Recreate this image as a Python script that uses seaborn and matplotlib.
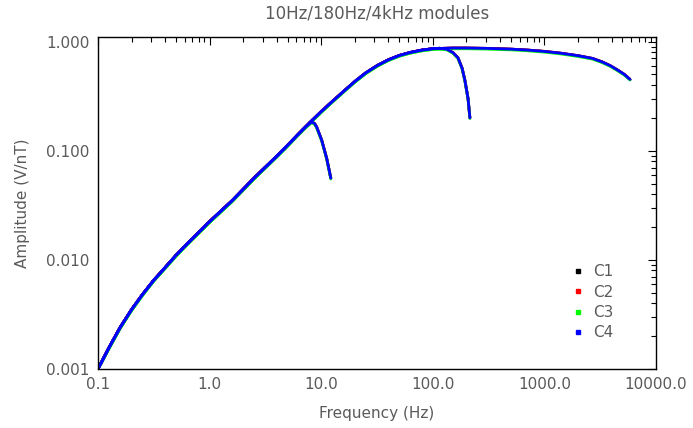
import numpy as np
import pandas as pd
import seaborn as sns
import matplotlib
matplotlib.use("Agg")
import matplotlib.pyplot as plt
from matplotlib.lines import Line2D
from matplotlib.ticker import FixedLocator, FixedFormatter, LogLocator, NullFormatter

# ---------------- data ----------------
channels = ["C1", "C2", "C3", "C4"]
channel_colors = ["#000000", "#ff0000", "#00ff00", "#0000ff"]

# common low-frequency rise (all modules)
rise_freq = [0.10, 0.126, 0.158, 0.20, 0.25, 0.316, 0.40, 0.50, 0.63, 1.0, 1.6, 2.5, 4.0, 5.0, 6.3]
rise_amp = [0.0010, 0.00158, 0.0024, 0.0035, 0.0048, 0.0065, 0.0085, 0.011, 0.014, 0.0224,
            0.035, 0.056, 0.089, 0.112, 0.143]
rise_amp_c3 = [0.0010, 0.00155, 0.00236, 0.00344, 0.00472, 0.0064, 0.00836, 0.0108, 0.0138, 0.0220,
               0.0344, 0.0551, 0.0876, 0.110, 0.141]

# 10 Hz module roll-off
tail10_freq = [7.3, 8.2, 8.7, 9.1, 10.1, 11.2, 12.2]
tail10_amp = [0.166, 0.183, 0.178, 0.165, 0.125, 0.085, 0.056]
tail10_amp_c3 = [0.163, 0.180, 0.175, 0.162, 0.123, 0.084, 0.055]

# mid band shared by 180 Hz and 4 kHz modules
mid_freq = [8.0, 10, 12.6, 16, 20, 25, 32, 40, 50, 63, 80, 100]
mid_amp = [0.183, 0.228, 0.283, 0.352, 0.43, 0.515, 0.605, 0.68, 0.745, 0.795, 0.835, 0.86]
mid_amp_c3 = [0.180, 0.224, 0.279, 0.347, 0.423, 0.507, 0.596, 0.67, 0.734, 0.784, 0.823, 0.847]

# 180 Hz module roll-off
tail180_freq = [115, 134, 152, 168, 183, 194, 207, 215]
tail180_amp = [0.868, 0.85, 0.79, 0.71, 0.57, 0.44, 0.30, 0.20]
tail180_amp_c3 = [0.855, 0.838, 0.779, 0.70, 0.562, 0.434, 0.296, 0.197]

# 4 kHz module roll-off
tail4k_freq = [150, 200, 300, 500, 700, 1000, 1400, 2000, 2700, 3300, 3900, 4500, 5200, 5850]
tail4k_amp = [0.872, 0.872, 0.866, 0.852, 0.836, 0.812, 0.782, 0.742, 0.70, 0.65, 0.60, 0.55, 0.50, 0.45]
tail4k_amp_c3 = [0.859, 0.859, 0.853, 0.839, 0.823, 0.80, 0.77, 0.73, 0.69, 0.64, 0.591, 0.542, 0.493, 0.444]

x_ticks = [0.1, 1, 10, 100, 1000, 10000]
x_tick_labels = ["0.1", "1.0", "10.0", "100.0", "1000.0", "10000.0"]
y_ticks = [0.001, 0.01, 0.1, 1.0]
y_tick_labels = ["0.001", "0.010", "0.100", "1.000"]

# ---------------- build long table ----------------
rows = []
def add(module, freqs, amps_main, amps_c3):
    for ch in channels:
        amps = amps_c3 if ch == "C3" else amps_main
        for f, a in zip(freqs, amps):
            rows.append({"module": module, "channel": ch, "freq": f, "amp": a})

add("10Hz", rise_freq + tail10_freq, rise_amp + tail10_amp, rise_amp_c3 + tail10_amp_c3)
add("180Hz", rise_freq + mid_freq + tail180_freq, rise_amp + mid_amp + tail180_amp,
    rise_amp_c3 + mid_amp_c3 + tail180_amp_c3)
add("4kHz", rise_freq + mid_freq + tail4k_freq, rise_amp + mid_amp + tail4k_amp,
    rise_amp_c3 + mid_amp_c3 + tail4k_amp_c3)
df = pd.DataFrame(rows)

# ---------------- plot ----------------
sns.set_theme(style="white")
plt.rcParams["font.family"] = ["DejaVu Sans"]
text_color = "#5a5a5a"

fig = plt.figure(figsize=(6.93, 4.28), dpi=100)
ax = fig.add_axes([0.1414, 0.1379, 0.9466 - 0.1414, 0.9135 - 0.1379])

sns.lineplot(data=df, x="freq", y="amp", hue="channel", hue_order=channels,
             units="module", estimator=None, sort=False,
             palette=dict(zip(channels, channel_colors)), linewidth=2.0,
             legend=False, ax=ax)

ax.set_xscale("log")
ax.set_yscale("log")
ax.set_xlim(0.1, 10000)
ax.set_ylim(0.001, 1.1)

ax.xaxis.set_major_locator(FixedLocator(x_ticks))
ax.xaxis.set_major_formatter(FixedFormatter(x_tick_labels))
ax.yaxis.set_major_locator(FixedLocator(y_ticks))
ax.yaxis.set_major_formatter(FixedFormatter(y_tick_labels))
ax.xaxis.set_minor_locator(LogLocator(base=10, subs=np.arange(2, 10), numticks=20))
ax.yaxis.set_minor_locator(LogLocator(base=10, subs=np.arange(2, 10), numticks=20))
ax.xaxis.set_minor_formatter(NullFormatter())
ax.yaxis.set_minor_formatter(NullFormatter())

ax.tick_params(which="both", direction="in", top=True, right=True, colors="black",
               labelcolor=text_color, labelsize=11, width=0.8)
ax.tick_params(which="major", length=6, pad=6)
ax.tick_params(which="minor", length=3.5)
for s in ax.spines.values():
    s.set_color("black")
    s.set_linewidth(1.0)

ax.set_xlabel("Frequency (Hz)", fontsize=11, color=text_color, labelpad=10)
ax.set_ylabel("Amplitude (V/nT)", fontsize=11, color=text_color, labelpad=12)
ax.set_title("10Hz/180Hz/4kHz modules", fontsize=12, color=text_color, pad=13)

handles = [Line2D([], [], marker="s", linestyle="", color=c, markersize=3.5) for c in channel_colors]
leg = ax.legend(handles, channels, loc="upper left", bbox_to_anchor=(0.824, 0.357),
                frameon=False, handlelength=0.8, handletextpad=0.6, labelspacing=0.35,
                fontsize=11)
for t in leg.get_texts():
    t.set_color(text_color)

fig.savefig("out.png", dpi=100)
